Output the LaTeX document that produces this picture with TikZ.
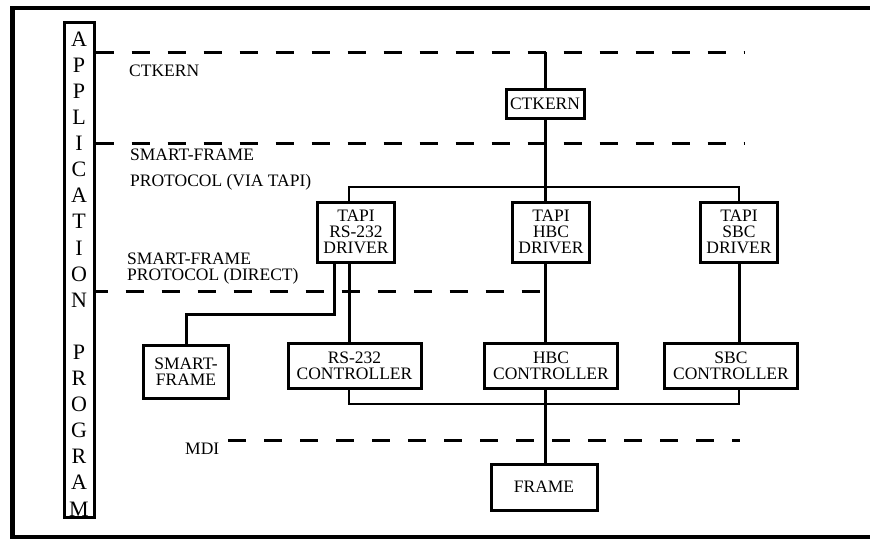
\documentclass[tikz,border=0pt]{standalone}
\usepackage{fontspec}
\setmainfont{Liberation Serif}
\usetikzlibrary{positioning,calc}

\begin{document}
\begin{tikzpicture}[x=1pt,y=-1pt,font=\fontsize{17.5}{16}\selectfont,
  blk/.style={draw,line width=3pt,inner sep=0pt,align=center},
  wire/.style={line width=3pt},
  bus/.style={line width=2.5pt},
  layer/.style={line width=3pt,dash pattern=on 18pt off 18pt},
  lbl/.style={anchor=west,inner sep=0pt,align=left}]
  \useasboundingbox (0,0) rectangle (870,539);
  % outer frame (open on the right)
  \draw[line width=4.5pt] (870,8) -- (12.5,8) -- (12.5,537) -- (870,537);

  % application program column
  \node[blk,minimum width=30pt,minimum height=495pt] (app) at (79,269.5) {};
  \foreach \ch [count=\i from 0] in {A,P,P,L,I,C,A,T,I,O,N,{},P,R,O,G,R,A,M}
    \node[font=\fontsize{22}{22}\selectfont,inner sep=0pt] (ap\i) at (79,39+26.1*\i) {\ch};

  % blocks
  \node[blk,minimum width=78pt,minimum height=29pt] (ctk) at (545,104) {CTKERN};
  \foreach \nm/\x/\t in {rs/356/RS-232,hbc/551/HBC,sbc/739/SBC}
    \node[blk,minimum width=77pt,minimum height=60pt] (drv\nm) at (\x,232) {TAPI\\\t\\DRIVER};
  \foreach \nm/\x/\t in {rs/354.5/RS-232,hbc/551/HBC,sbc/731/SBC}
    \node[blk,minimum width=133pt,minimum height=45pt] (ctl\nm) at (\x,365.5) {\t\\CONTROLLER};
  \node[blk,minimum width=85pt,minimum height=53pt] (smart) at (186,371.5) {SMART-\\FRAME};
  \node[blk,minimum width=106pt,minimum height=46pt] (frame) at (544,487) {FRAME};

  % layer labels
  \node[lbl] (lctk) at (129,71) {CTKERN};
  \node[lbl] (ltapi) at (130,170) {SMART-FRAME\\[10pt]PROTOCOL (VIA TAPI)};
  \node[lbl] (ldir) at (127,269) {SMART-FRAME\\PROTOCOL (DIRECT)};
  \node[lbl] (lmdi) at (185,449) {MDI};

  % layer boundaries
  \coordinate (ctkTop) at (545,52);
  \coordinate (e1) at (745,52);
  \coordinate (e2) at (745,143);
  \coordinate (e3) at (545,291);
  \coordinate (s4) at (228,440);
  \coordinate (e4) at (740,440);
  \draw[layer] (app.east |- e1) -- (e1);
  \draw[layer] (app.east |- e2) -- (e2);
  \draw[layer,dash phase=6pt] (app.east |- e3) -- (e3);
  \draw[layer] (s4) -- (e4);

  % connections
  \coordinate (colA) at (349,0);
  \coordinate (colB) at (545,0);
  \coordinate (colC) at (739,0);
  \coordinate (busT) at (545,187);
  \coordinate (busB) at (545,404);
  \coordinate (sfTurn) at (334,314);
  \draw[wire] (ctkTop) -- (ctk.north);
  \draw[wire] (ctk.south) -- (busT);
  \draw[bus] (drvrs.north -| colA) |- (busT) -| (drvsbc.north);
  \draw[wire] (busT) -- (drvhbc.north -| colB);
  \draw[wire] (drvrs.south -| colA) -- (ctlrs.north -| colA);
  \draw[wire] (drvhbc.south -| colB) -- (ctlhbc.north -| colB);
  \draw[wire] (drvsbc.south) -- (ctlsbc.north -| colC);
  \draw[wire] (drvrs.south -| sfTurn) -- (sfTurn) -| (smart.north);
  \draw[bus] (ctlrs.south -| colA) |- (busB) -| (ctlsbc.south -| colC);
  \draw[wire] (ctlhbc.south -| colB) -- (frame.north -| colB);
\end{tikzpicture}
\end{document}
